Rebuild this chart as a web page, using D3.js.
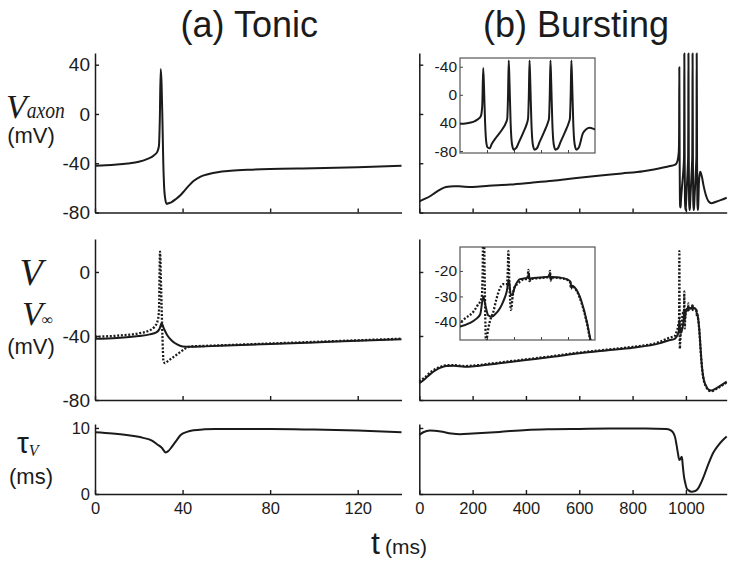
<!DOCTYPE html>
<html><head><meta charset="utf-8">
<script src="https://cdn.jsdelivr.net/npm/d3@7"></script>
<style>body{margin:0;background:#fff}svg{display:block}</style>
</head><body>
<svg id="c" width="736" height="566"></svg>
<script>
// ---------------- DATA ----------------
// (a) Tonic, t in ms
const tonicAxT  = [0,5,10,15,20,24,27,28.5,29.2,29.6,30,30.4,30.8,31.2,31.6,32,32.7,33.5,35,37,39,41,43,45,48,52,56,62,70,80,100,120,140];
const tonicVaxon = [-42,-41.7,-41.1,-40.2,-38.8,-36.5,-33.5,-30.5,-26,-5,36.5,25,-5,-40,-60,-68,-73,-72.5,-71.5,-69,-66,-62,-58,-54.5,-51,-48.8,-47.3,-46.2,-45.3,-44.6,-44,-43.2,-42];
const tonicVT = [0,10,20,25,28,29.5,30.4,31.5,33,35,37.5,40,44,50,60,80,100,120,140];
const tonicV  = [-41.8,-41.2,-40,-39,-37.8,-35.5,-32,-35.5,-39.5,-42.8,-45.3,-46.5,-46.8,-46.5,-46,-45,-44,-43,-42];
const tonicVinfT = [0,10,20,25,27,28.5,29.2,29.7,30.2,30.8,31.3,32,33,34.5,36.5,39,41,44,50,60,80,100,120,140];
const tonicVinf  = [-40.5,-39.8,-38.3,-36.5,-34.5,-31,-25,12.7,-10,-40,-56,-57,-56,-54.5,-52.5,-50,-48,-46.5,-46.2,-45.7,-44.7,-43.7,-42.7,-41.7];
const tonicTauT = [0,8,16,22,26,28.5,30.5,32.3,33.5,35,37,39,42,45,50,55,60,80,100,120,140];
const tonicTau  = [9.35,9.15,8.85,8.5,8.1,7.5,7.0,6.3,6.5,7.1,8.0,8.9,9.4,9.65,9.8,9.85,9.85,9.85,9.75,9.6,9.35];

// (b) Bursting, t in ms
const burstAxT = [0,20,40,60,80,100,130,160,200,260,340,420,500,590,680,760,840,880,915,940,958,962,966,969,971.5,973.5,974.5,975.2,975.8,976.6,977.5,978.5,980,981.5,985,989,992,993,993.6,994.1,994.7,995.5,996.5,997.8,999.5,1001.5,1005,1007.5,1008.4,1009,1009.5,1010.1,1010.9,1011.9,1013.2,1015,1017,1020.5,1023,1023.9,1024.5,1025,1025.6,1026.4,1027.4,1028.7,1030.5,1032.5,1036,1038.5,1039.4,1040,1040.5,1041.1,1041.9,1042.9,1044.2,1046,1049,1051.5,1054,1057,1060,1066,1075,1085,1096,1110,1130,1153];
const burstVaxon = [-71,-69,-66.8,-63.8,-61.2,-59.3,-58.6,-58.9,-59.2,-58.3,-57.3,-55.8,-54.2,-52,-50,-48.3,-46.5,-45,-43.5,-42.3,-41.3,-40.8,-39.5,-37.5,-34.5,-30,-15,38,10,-40,-68,-75,-76,-70,-60,-50,-40,-34,0,49,15,-40,-70,-78,-76,-68,-53,-41,-34,0,49,15,-40,-70,-78,-76,-67,-52,-40,-34,0,49,15,-40,-70,-78,-76,-67,-52,-40,-34,0,49,15,-40,-70,-78,-75,-55,-49,-47,-48.5,-51,-58,-66,-71,-72.5,-71.5,-70,-68];
const burstVT = [0,20,40,60,80,100,130,170,215,300,400,500,600,700,800,900,940,958,965,970,973,975.3,977,979,981.5,984,987.6,990,992.6,994.2,995.5,996.5,998.7,1002.4,1006,1008.5,1009,1009.6,1010.5,1017,1024,1024.6,1025.2,1026,1032,1037,1039.8,1040.4,1041,1044.4,1048,1052,1054.4,1058,1062,1068,1075,1085,1096,1110,1130,1153];
const burstV  = [-69.6,-67,-64,-61.5,-59.8,-58.8,-58.6,-59.2,-58.7,-57,-55,-53,-50.8,-49,-47.3,-44.6,-42.5,-41.8,-40.5,-38.8,-37,-30,-34,-37.5,-38,-37,-34.6,-32,-28.1,-23.5,-29,-29.5,-26.1,-23.2,-22.9,-22.5,-21.2,-23.5,-23,-22.6,-22.2,-20.8,-23.4,-22.4,-22.6,-23.2,-24.2,-26.2,-25.8,-27.5,-32,-40,-46.4,-55,-62,-68,-71,-73.5,-74,-73,-71,-68.5];
const burstVinfT = [0,20,40,60,80,100,130,170,215,300,400,500,600,700,800,900,940,958,962,967.9,971,974,974.8,975.4,976.2,977.3,978.5,980,982.7,985,987.6,990,992.6,993.4,993.8,994.6,995.8,997,998,1001.2,1004,1008,1008.7,1009.4,1010.5,1017,1024,1024.6,1025.3,1026,1032,1037,1039.6,1040.2,1041,1044.4,1048,1052,1054.4,1058,1062,1068,1075,1085,1096,1110,1130,1153];
const burstVinf  = [-68.5,-66,-63,-60.7,-59.2,-58.3,-58.2,-58.8,-58.3,-56.6,-54.6,-52.6,-50.4,-48.6,-46.8,-43.8,-41,-40.1,-38.5,-36,-33.5,-30.7,-20,13,-20,-48,-44,-40,-36,-31,-26.8,-25.2,-25.2,-20,-12.2,-25,-35.3,-30,-26.8,-24.8,-23.5,-23,-19.6,-24,-23.2,-22.8,-22.4,-20,-23.8,-22.6,-22.8,-23.4,-24.5,-27,-26,-27.8,-32.5,-40.5,-47,-55.5,-62.5,-68.5,-71.5,-74,-74.5,-73.5,-71.5,-69];
const burstTauT = [0,15,40,80,120,153,200,300,403,500,600,715,850,928,945,953,960,965,970,975,980,984,986,988,993,998,1003,1010,1021,1035,1046,1058,1071,1086,1102,1120,1137,1153];
const burstTau  = [8.95,9.35,9.6,9.45,9.15,9.05,9.15,9.4,9.7,9.8,9.85,9.9,9.9,9.85,9.6,9.24,8.5,7.4,6.2,5.15,5.3,5.65,5.3,4.4,2.6,1.6,0.85,0.55,0.35,0.45,0.85,1.8,3.1,4.7,6.2,7.3,8.1,8.7];

// ticks
const tonicTicks = [0,40,80,120];
const tonicTickLabels = ["0","40","80","120"];
const burstTicks = [0,200,400,600,800,1000];
const burstTickLabels = ["0","200","400","600","800","1000"];
const vaxTicks = [40,0,-40,-80];
const vaxTickLabels = ["40","0","-40","-80"];
const vTicks = [0,-40,-80];
const vTickLabels = ["0","-40","-80"];
const tauTicks = [10,0];
const tauTickLabels = ["10","0"];
const inset1YTicks = [40,0,-40,-80];
const inset1YLabels = ["-40","0","40","-80"];
const inset2YTicks = [-20,-30,-40];
const inset2YLabels = ["-20","-30","-40"];
const insetXTicks = [978,998,1018,1038];

// ---------------- DRAW ----------------
const svg = d3.select("#c");
const sans = "'Liberation Sans', Arial, Helvetica, sans-serif";
const serif = "'Liberation Serif', 'Times New Roman', serif";
const ink = "#1b1b1b";

const xL = d3.scaleLinear([0,140],[95,401.5]);
const xR = d3.scaleLinear([0,1153],[419.3,726.7]);
const yTop = d3.scaleLinear([-80,49.5],[212.5,53]);
const yMid = d3.scaleLinear([-80,20.6],[400,239]);
const yBot = d3.scaleLinear([0,10.6],[494,424]);
const xIn = d3.scaleLinear([958,1058],[460,595]);
const yIn1 = d3.scaleLinear([-82.8,52.4],[153,58]);
const yIn2 = d3.scaleLinear([-47.1,-10.6],[340,247]);

const defs = svg.append("defs");
defs.append("clipPath").attr("id","clipIn1").append("rect")
  .attr("x",xIn.range()[0]).attr("y",yIn1.range()[1])
  .attr("width",xIn.range()[1]-xIn.range()[0]).attr("height",yIn1.range()[0]-yIn1.range()[1]);
defs.append("clipPath").attr("id","clipIn2").append("rect")
  .attr("x",xIn.range()[0]).attr("y",yIn2.range()[1])
  .attr("width",xIn.range()[1]-xIn.range()[0]).attr("height",yIn2.range()[0]-yIn2.range()[1]);

function styleAxis(g, fs){
  g.attr("font-family",sans).attr("font-size",fs);
  g.select(".domain").attr("stroke",ink).attr("stroke-width",1.5);
  g.selectAll(".tick line").attr("stroke",ink).attr("stroke-width",1.4);
  g.selectAll(".tick text").attr("fill",ink);
}
function yAxis(x, y, ticks, labels, fs, inner){
  const ax = d3.axisLeft(y).tickValues(ticks).tickSizeInner(-(inner||4)).tickSizeOuter(0).tickPadding(5)
    .tickFormat(labels ? (d,i)=>labels[i] : "");
  const g = svg.append("g").attr("transform",`translate(${x.range()[0]},0)`).call(ax);
  styleAxis(g, fs);
  return g;
}
function xAxis(x, y, ticks, labels, fs, inner){
  const ax = d3.axisBottom(x).tickValues(ticks).tickSizeInner(-(inner||4)).tickSizeOuter(0).tickPadding(8)
    .tickFormat(labels ? (d,i)=>labels[i] : "");
  const g = svg.append("g").attr("transform",`translate(0,${y.range()[0]})`).call(ax);
  styleAxis(g, fs);
  return g;
}
function curve(x, y, ts, vs, dotted, clip){
  const data = ts.map((t,i)=>[t,vs[i]]);
  const line = d3.line().x(d=>x(d[0])).y(d=>y(d[1])).curve(d3.curveMonotoneX);
  const p = svg.append("path").attr("d",line(data)).attr("fill","none")
    .attr("stroke",ink).attr("stroke-width",dotted?2.3:2).attr("stroke-linejoin","round");
  if(dotted) p.attr("stroke-dasharray","2,1.7");
  if(clip) p.attr("clip-path",`url(#${clip})`);
}

// Left column
xAxis(xL, yTop, tonicTicks, null, 16.5);
yAxis(xL, yTop, vaxTicks, vaxTickLabels, 19);
xAxis(xL, yMid, tonicTicks, null, 16.5);
yAxis(xL, yMid, vTicks, vTickLabels, 19);
xAxis(xL, yBot, tonicTicks, tonicTickLabels, 16.5);
yAxis(xL, yBot, tauTicks, tauTickLabels, 16.5);
curve(xL, yTop, tonicAxT, tonicVaxon);
curve(xL, yMid, tonicVT, tonicV);
curve(xL, yMid, tonicVinfT, tonicVinf, true);
curve(xL, yBot, tonicTauT, tonicTau);

// Right column
xAxis(xR, yTop, burstTicks, null, 16.5);
yAxis(xR, yTop, vaxTicks, null, 19);
xAxis(xR, yMid, burstTicks, null, 16.5);
yAxis(xR, yMid, vTicks, null, 19);
xAxis(xR, yBot, burstTicks, burstTickLabels, 16.5);
yAxis(xR, yBot, tauTicks, null, 16.5);
curve(xR, yTop, burstAxT, burstVaxon);
curve(xR, yMid, burstVT, burstV);
curve(xR, yMid, burstVinfT, burstVinf, true);
curve(xR, yBot, burstTauT, burstTau);

// Insets
function insetBox(yS, ticks, labels){
  svg.append("rect").attr("x",xIn.range()[0]).attr("y",yS.range()[1])
    .attr("width",xIn.range()[1]-xIn.range()[0]).attr("height",yS.range()[0]-yS.range()[1])
    .attr("fill","#fff").attr("stroke","#555").attr("stroke-width",1.2);
  const ay = d3.axisLeft(yS).tickValues(ticks).tickSizeInner(-3).tickSizeOuter(0).tickPadding(3)
    .tickFormat((d,i)=>labels[i]);
  const gy = svg.append("g").attr("transform",`translate(${xIn.range()[0]},0)`).call(ay);
  gy.attr("font-family",sans).attr("font-size",15.5);
  gy.select(".domain").remove();
  gy.selectAll(".tick line").attr("stroke","#444").attr("stroke-width",1);
  gy.selectAll(".tick text").attr("fill",ink);
  const ax = d3.axisBottom(xIn).tickValues(insetXTicks).tickSizeInner(-3).tickSizeOuter(0).tickFormat("");
  const gx = svg.append("g").attr("transform",`translate(0,${yS.range()[0]})`).call(ax);
  gx.select(".domain").remove();
  gx.selectAll(".tick line").attr("stroke","#444").attr("stroke-width",1);
}
insetBox(yIn1, inset1YTicks, inset1YLabels);
curve(xIn, yIn1, burstAxT, burstVaxon, false, "clipIn1");
insetBox(yIn2, inset2YTicks, inset2YLabels);
curve(xIn, yIn2, burstVT, burstV, false, "clipIn2");
curve(xIn, yIn2, burstVinfT, burstVinf, true, "clipIn2");

// Titles
svg.append("text").attr("x",(xL.range()[0]+xL.range()[1])/2+1).attr("y",37)
  .attr("text-anchor","middle").attr("font-family",sans).attr("font-size",36).attr("fill",ink).text("(a) Tonic");
svg.append("text").attr("x",(xR.range()[0]+xR.range()[1])/2+3).attr("y",37)
  .attr("text-anchor","middle").attr("font-family",sans).attr("font-size",36).attr("fill",ink).text("(b) Bursting");

// Y labels
const t1 = svg.append("text").attr("x",6).attr("y",118).attr("font-family",serif).attr("font-style","italic").attr("fill",ink);
t1.append("tspan").attr("font-size",34).text("V");
t1.append("tspan").attr("font-size",24).attr("textLength",38).attr("lengthAdjust","spacingAndGlyphs").text("axon");
svg.append("text").attr("x",31).attr("y",143).attr("text-anchor","middle").attr("font-family",sans).attr("font-size",22).attr("fill",ink).text("(mV)");

svg.append("text").attr("x",31).attr("y",285).attr("text-anchor","middle").attr("font-family",serif).attr("font-style","italic").attr("font-size",38).attr("fill",ink).text("V");
const t2 = svg.append("text").attr("x",22).attr("y",325).attr("font-family",serif).attr("fill",ink);
t2.append("tspan").attr("font-style","italic").attr("font-size",34).text("V");
t2.append("tspan").attr("font-size",16).attr("dx",-1).text("∞");
svg.append("text").attr("x",31).attr("y",354).attr("text-anchor","middle").attr("font-family",sans).attr("font-size",22).attr("fill",ink).text("(mV)");

const t3 = svg.append("text").attr("x",17).attr("y",453).attr("fill",ink);
t3.append("tspan").attr("font-family",sans).attr("font-size",30).text("τ");
t3.append("tspan").attr("font-family",serif).attr("font-style","italic").attr("font-size",16).attr("dy",3).text("V");
svg.append("text").attr("x",31).attr("y",484).attr("text-anchor","middle").attr("font-family",sans).attr("font-size",22).attr("fill",ink).text("(ms)");

// X label
const t4 = svg.append("text").attr("x",371).attr("y",554).attr("font-family",sans).attr("fill",ink);
t4.append("tspan").attr("font-size",32).text("t");
t4.append("tspan").attr("font-size",21).attr("dx",5).text("(ms)");
</script>
</body></html>
